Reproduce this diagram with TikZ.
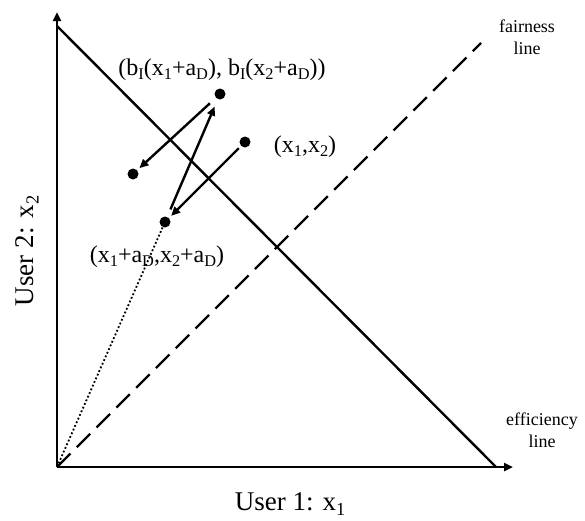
\documentclass[tikz,border=0pt]{standalone}
\usepackage{fontspec}
\setmainfont{Liberation Serif}
\usetikzlibrary{arrows.meta}
\newcommand\sbs[1]{\raisebox{-0.45ex}{\scalebox{0.68}{#1}}}
\begin{document}
\begin{tikzpicture}[x=1pt,y=-1pt,
  axisline/.style={line width=2.4pt,-{Triangle[length=9pt,width=8pt]}},
  thickline/.style={line width=2.4pt},
  movearrow/.style={line width=2.4pt,-{Triangle[length=9pt,width=8pt]}},
  dotnode/.style={circle,fill=black,inner sep=0pt,minimum size=11pt},
  lbl/.style={font=\fontsize{24}{28}\selectfont,anchor=base,inner sep=0pt},
  axlbl/.style={font=\fontsize{27}{32}\selectfont,anchor=base,inner sep=0pt},
  sidelbl/.style={font=\fontsize{18}{22}\selectfont,align=center,anchor=base,inner sep=0pt}]
\useasboundingbox (0,0) rectangle (585,520);
\coordinate (O) at (57,467);
\coordinate (ytip) at (57,12);
\coordinate (xtip) at (513,467);
\coordinate (effA) at (57,26);
\coordinate (effB) at (496,467);
\coordinate (fairE) at (481,43);
\draw[axisline] (O) -- (ytip);
\draw[axisline] (O) -- (xtip);
\draw[thickline] (effA) -- (effB);
\draw[line width=2.4pt,dash pattern=on 19pt off 9pt] (O) -- (fairE);
\node[dotnode] (p) at (245,142) {};
\node[dotnode] (q) at (165,222) {};
\node[dotnode] (r) at (220,94) {};
\node[dotnode] (s) at (133,174) {};
\draw[line width=1.8pt,dash pattern=on 1.8pt off 2.2pt] (O) -- (q);
\draw[movearrow,shorten <=3pt,shorten >=3pt] (p) -- (q);
\draw[movearrow,shorten <=8pt,shorten >=8pt] (q) -- (r);
\draw[movearrow,shorten <=8pt,shorten >=3pt] (r) -- (s);
\node[lbl] (lr) at (222,75) {(b\sbs{I}(x\sbs{1}+a\sbs{D}), b\sbs{I}(x\sbs{2}+a\sbs{D}))};
\node[lbl] (lp) at (305,152) {(x\sbs{1},x\sbs{2})};
\node[lbl] (lq) at (157,262) {(x\sbs{1}+a\sbs{D},x\sbs{2}+a\sbs{D})};
\node[sidelbl] (lf) at (527,54) {fairness\\line};
\node[sidelbl] (le) at (542,447) {efficiency\\line};
\node[axlbl] (lx) at (290,510) {User 1: x\sbs{1}};
\node[axlbl,rotate=90] (ly) at (33,251) {User 2: x\sbs{2}};
\end{tikzpicture}
\end{document}
